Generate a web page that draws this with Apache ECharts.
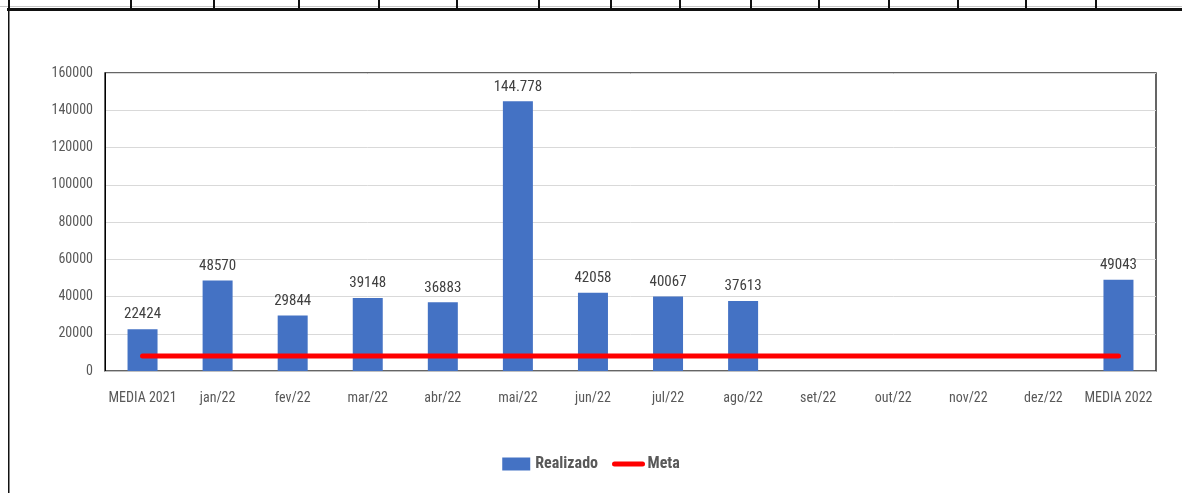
<!DOCTYPE html>
<html>
<head>
<meta charset="utf-8">
<script src="https://cdn.jsdelivr.net/npm/echarts@6/dist/echarts.min.js"></script>
<style>html,body{margin:0;padding:0;background:#fff}#c{width:1182px;height:493px}</style>
</head>
<body>
<div id="c"></div>
<script>
const categories = ['MEDIA 2021','jan/22','fev/22','mar/22','abr/22','mai/22','jun/22','jul/22','ago/22','set/22','out/22','nov/22','dez/22','MEDIA 2022'];
const realizado = [22424, 48570, 29844, 39148, 36883, 144778, 42058, 40067, 37613, null, null, null, null, 49043];
const meta = [8000, 8000, 8000, 8000, 8000, 8000, 8000, 8000, 8000, 8000, 8000, 8000, 8000, 8000];
const yTicks = [0, 20000, 40000, 60000, 80000, 100000, 120000, 140000, 160000];

const FONT = '"Liberation Sans Narrow", "Arial Narrow", "Roboto Condensed", sans-serif';
const chart = echarts.init(document.getElementById('c'), null, {renderer: 'canvas'});

// spreadsheet cell lines at the top (decoration)
const cellX = [8, 130, 213, 298, 378, 456, 538, 610, 679, 750, 818, 888, 957, 1025, 1095];
const graphics = [
  {type: 'rect', shape: {x: 0, y: 6, width: 1182, height: 1}, style: {fill: '#c8c8c8'}, silent: true},
  {type: 'rect', shape: {x: 7, y: 8, width: 1175, height: 3}, style: {fill: '#111'}, silent: true},
  {type: 'rect', shape: {x: 8, y: 0, width: 1.5, height: 493}, style: {fill: '#111'}, silent: true}
];
cellX.forEach(x => graphics.push({type: 'rect', shape: {x: x, y: 0, width: 2, height: 9}, style: {fill: '#111'}, silent: true}));

function fmtLabel(p) {
  const v = p.value;
  if (v == null) return '';
  if (v >= 100000) return String(v).replace(/\B(?=(\d{3})+(?!\d))/g, '.');
  return String(v);
}

chart.setOption({
  backgroundColor: '#fff',
  animation: false,
  graphic: graphics,
  grid: {left: 105, right: 26, top: 73, bottom: 122, show: true, borderColor: '#333', borderWidth: 1.5, backgroundColor: 'transparent'},
  legend: {
    bottom: 16, left: 'center',
    itemGap: 14,
    textStyle: {fontFamily: FONT, fontSize: 16, fontWeight: 'bold', color: '#595959'},
    data: [
      {name: 'Realizado', icon: 'rect', itemStyle: {color: '#4472c4'}},
      {name: 'Meta', itemStyle: {opacity: 0}, lineStyle: {color: '#ff0000', width: 5, cap: 'round'}}
    ],
    itemWidth: 28, itemHeight: 13
  },
  xAxis: {
    type: 'category',
    data: categories,
    axisLine: {show: true, lineStyle: {color: '#bfbfbf'}},
    axisTick: {show: false},
    axisLabel: {fontFamily: FONT, fontSize: 14, color: '#595959', margin: 20, interval: 0}
  },
  yAxis: {
    type: 'value',
    min: yTicks[0], max: yTicks[yTicks.length - 1], interval: 20000,
    axisLine: {show: true, lineStyle: {color: '#000'}},
    axisTick: {show: false},
    axisLabel: {fontFamily: FONT, fontSize: 14, color: '#595959', margin: 12, formatter: v => String(v)},
    splitLine: {lineStyle: {color: '#d9d9d9', width: 1}}
  },
  series: [
    {
      name: 'Realizado', type: 'bar', data: realizado, barWidth: 30,
      itemStyle: {color: '#4472c4'},
      label: {show: true, position: 'top', distance: 7, formatter: fmtLabel, fontFamily: FONT, fontSize: 15, color: '#404040'}
    },
    {
      name: 'Meta', type: 'line', data: meta, symbol: 'none', showSymbol: false,
      lineStyle: {color: '#ff0000', width: 5, cap: 'round'},
      itemStyle: {color: '#ff0000'}, z: 3
    }
  ]
});
</script>
</body>
</html>
